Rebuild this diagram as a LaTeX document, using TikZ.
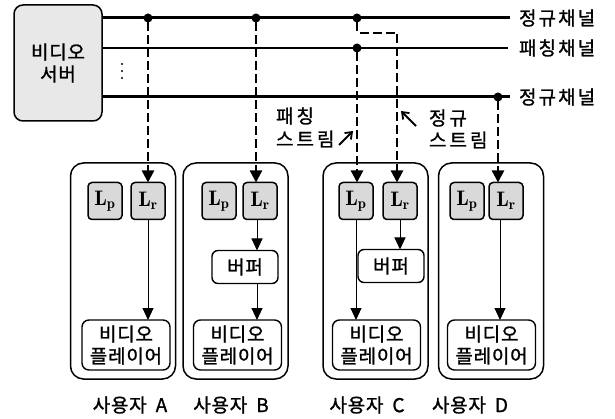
\documentclass[tikz,border=0pt]{standalone}
\usepackage{fontspec}
\usetikzlibrary{arrows.meta}
\newfontfamily\kr{Noto Sans CJK KR}[LetterSpace=4, FakeBold=1.2]
\newfontfamily\krwide{Noto Sans CJK KR}[LetterSpace=16, FakeBold=1.2]
\newfontfamily\krch{Noto Sans CJK KR}[LetterSpace=11, FakeBold=1.2]
\tikzset{
  every node/.style={inner sep=0pt, outer sep=0pt},
  ktext/.style={font=\kr\fontsize{19}{22}\selectfont, align=center},
  server/.style={draw, line width=1.5pt, rounded corners=9pt, fill=gray!18, minimum width=88pt, minimum height=116pt, ktext},
  userbox/.style={draw, line width=1.5pt, rounded corners=13pt, minimum width=105pt, minimum height=216pt},
  lbox/.style={draw, line width=1.5pt, rounded corners=4pt, fill=gray!30, minimum width=34pt, minimum height=37pt, font=\fontsize{21}{21}\selectfont},
  player/.style={draw, line width=1.4pt, rounded corners=7pt, minimum width=88pt, minimum height=50pt, ktext},
  buffer/.style={draw, line width=1.4pt, rounded corners=6pt, minimum width=66pt, minimum height=33pt, ktext},
  dot/.style={circle, fill=black, minimum size=9pt},
  chlabel/.style={font=\krch\fontsize{19}{22}\selectfont, anchor=west},
  stream/.style={line width=2.4pt, dash pattern=on 9pt off 4pt, -{Triangle[length=12pt,width=12pt]}},
  flow/.style={line width=1pt, -{Triangle[length=12pt,width=11pt]}},
  note/.style={font=\krwide\fontsize{19}{22}\selectfont, anchor=west}
}
\begin{document}
\begin{tikzpicture}[x=1pt,y=-1pt]
\useasboundingbox (0,0) rectangle (615,419);
% server
\node[server] (srv) at (58,63) {비디오\\서버};
% channel labels
\node[chlabel] (ch1) at (519,18) {정규채널};
\node[chlabel] (ch2) at (519,48) {패칭채널};
\node[chlabel] (ch3) at (519,97) {정규채널};
\coordinate (e1) at (510,18);
\coordinate (e2) at (508,48);
\coordinate (e3) at (510,97);
\draw[line width=3pt] (srv.east |- e1) -- (e1);
\draw[line width=2pt] (srv.east |- e2) -- (e2);
\draw[line width=3pt] (srv.east |- e3) -- (e3);
% vertical dots
\foreach \yy in {64,71,78} \fill (122,\yy) circle (1.2pt);
% user boxes
\node[userbox] (uA) at (123,271) {};
\node[userbox] (uB) at (235.5,271) {};
\node[userbox] (uC) at (375.5,271) {};
\node[userbox] (uD) at (491,271) {};
% L boxes
\node[lbox] (lpA) at (105,201) {$\mathbf{L_p}$};
\node[lbox] (lrA) at (148,201) {$\mathbf{L_r}$};
\node[lbox] (lpB) at (219,201) {$\mathbf{L_p}$};
\node[lbox] (lrB) at (260,201) {$\mathbf{L_r}$};
\node[lbox] (lpC) at (356,201) {$\mathbf{L_p}$};
\node[lbox] (lrC) at (400,201) {$\mathbf{L_r}$};
\node[lbox] (lpD) at (467,201) {$\mathbf{L_p}$};
\node[lbox] (lrD) at (506,201) {$\mathbf{L_r}$};
% buffers
\node[buffer] (bB) at (245,267) {버퍼};
\node[buffer] (bC) at (391,266) {버퍼};
% players
\node[player] (pA) at (126,345) {비디오\\플레이어};
\node[player] (pB) at (237.5,345) {비디오\\플레이어};
\node[player] (pC) at (376.5,345) {비디오\\플레이어};
\node[player] (pD) at (491.5,345) {비디오\\플레이어};
% user labels
\node[ktext] (nA) at (130,405) {사용자\hspace{9pt}A};
\node[ktext] (nB) at (231,405) {사용자\hspace{9pt}B};
\node[ktext] (nC) at (367,405) {사용자\hspace{9pt}C};
\node[ktext] (nD) at (470,405) {사용자\hspace{9pt}D};
% dots on channels
\node[dot] (dA) at (148,18) {};
\node[dot] (dB) at (256,18) {};
\node[dot] (dC1) at (357,18) {};
\node[dot] (dC2) at (357,48) {};
\node[dot] (dD) at (498,97) {};
\coordinate (jog) at (397,33);
% streams
\draw[stream] (dA) -- (dA |- lrA.north);
\draw[stream] (dB) -- (dB |- lrB.north);
\draw[stream] (dC2) -- (dC2 |- lpC.north);
\draw[stream] (dC1) -- (dC1 |- jog) -- (jog) -- (jog |- lrC.north);
\draw[stream] (dD) -- (dD |- lrD.north);
% internal flows
\draw[flow] (lrA.south) -- (lrA.south |- pA.north);
\coordinate (fB) at (257,0);
\draw[flow] (fB |- lrB.south) -- (fB |- bB.north);
\draw[flow] (fB |- bB.south) -- (fB |- pB.north);
\draw[flow] (lpC.south) -- (lpC.south |- pC.north);
\draw[flow] (lrC.south) -- (lrC.south |- bC.north);
\coordinate (fD) at (500,0);
\draw[flow] (fD |- lrD.south) -- (fD |- pD.north);
% notes
\node[note] (n1) at (276,116) {패칭};
\node[note] (n2) at (276,139) {스트림};
\coordinate (a1s) at (339,145);
\coordinate (a1e) at (353,131);
\draw[line width=1.8pt, -{Straight Barb[length=6pt,width=9pt]}] (a1s) -- (a1e);
\coordinate (a2s) at (416,126);
\coordinate (a2e) at (401,111);
\draw[line width=1.8pt, -{Straight Barb[length=6pt,width=9pt]}] (a2s) -- (a2e);
\node[note] (n3) at (429,118) {정규};
\node[note] (n4) at (429,140) {스트림};
\end{tikzpicture}
\end{document}
